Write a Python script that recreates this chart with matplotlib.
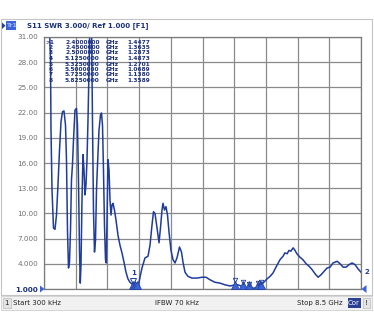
import matplotlib
matplotlib.use("Agg")
import matplotlib.pyplot as plt
from matplotlib.patches import Rectangle, Polygon
import matplotlib.transforms as mtransforms
import numpy as np

W, H = 374, 326

# Sweep: S11 SWR, 300 kHz .. 8.5 GHz
freq_ghz = [
    0.0003, 0.134, 0.174, 0.188, 0.215, 0.255, 0.295, 0.335, 0.375, 0.416,
    0.456, 0.496, 0.536, 0.577, 0.603, 0.630, 0.657, 0.684, 0.711, 0.737,
    0.764, 0.791, 0.831, 0.871, 0.898, 0.925, 0.952, 0.973, 0.992, 1.019,
    1.046, 1.073, 1.099, 1.126, 1.153, 1.180, 1.207, 1.233, 1.274, 1.300,
    1.327, 1.354, 1.381, 1.408, 1.435, 1.475, 1.515, 1.542, 1.569, 1.595,
    1.622, 1.649, 1.671, 1.689, 1.716, 1.743, 1.770, 1.797, 1.823, 1.850,
    1.890, 1.931, 1.984, 2.038, 2.091, 2.145, 2.199, 2.252, 2.306, 2.360,
    2.400, 2.450, 2.500, 2.547, 2.574, 2.628, 2.708, 2.789, 2.842, 2.896,
    2.936, 2.976, 3.030, 3.084, 3.124, 3.164, 3.191, 3.231, 3.271, 3.312,
    3.352, 3.405, 3.459, 3.513, 3.566, 3.633, 3.687, 3.727, 3.781, 3.861,
    3.968, 4.103, 4.237, 4.344, 4.451, 4.585, 4.719, 4.853, 4.987, 5.125,
    5.202, 5.325, 5.400, 5.500, 5.600, 5.725, 5.825, 5.872, 5.979, 6.060,
    6.140, 6.220, 6.330, 6.410, 6.460, 6.520, 6.570, 6.620, 6.680, 6.730,
    6.780, 6.860, 6.940, 7.030, 7.110, 7.190, 7.270, 7.350, 7.430, 7.510,
    7.590, 7.670, 7.750, 7.860, 7.940, 8.020, 8.100, 8.180, 8.260, 8.340,
    8.420, 8.500,
]
swr = [
    34.0, 34.0, 28.3, 20.0, 12.8, 8.26, 8.1, 9.8, 13.4, 17.5,
    20.9, 22.1, 22.2, 20.5, 16.4, 8.0, 3.5, 4.2, 8.0, 14.0,
    15.8, 18.7, 22.3, 22.5, 20.5, 14.0, 5.6, 1.7, 3.9, 11.6,
    17.0, 15.2, 12.2, 13.4, 16.4, 21.1, 27.1, 33.0, 33.0, 21.1,
    10.4, 5.4, 6.8, 12.8, 15.8, 19.9, 21.7, 21.95, 20.5, 15.2,
    8.6, 4.5, 4.1, 9.2, 16.4, 15.2, 11.6, 9.8, 11.0, 11.2,
    10.4, 9.2, 7.4, 6.2, 5.3, 4.2, 3.0, 2.2, 1.8, 1.6,
    1.4477, 1.3635, 1.2873, 1.8, 2.4, 3.5, 4.7, 4.9, 6.2, 8.6,
    10.2, 10.0, 8.3, 6.5, 8.3, 10.4, 11.2, 10.4, 10.8, 9.8,
    7.8, 5.6, 4.5, 4.1, 4.7, 6.0, 5.4, 4.2, 3.0, 2.5,
    2.3, 2.3, 2.4, 2.4, 2.1, 1.8, 1.7, 1.5, 1.36, 1.4873,
    1.5, 1.2701, 1.2, 1.0689, 1.1, 1.1380, 1.3589, 1.7, 2.2, 2.5,
    2.9, 3.6, 4.5, 4.9, 5.3, 5.2, 5.6, 5.5, 5.9, 5.6,
    5.2, 4.8, 4.5, 4.0, 3.7, 3.3, 2.8, 2.4, 2.7, 3.1,
    3.5, 3.6, 4.1, 4.3, 4.0, 3.6, 3.6, 3.9, 4.1, 3.9,
    3.4, 3.0,
]

# Marker table
marker_ids = [1, 2, 3, 4, 5, 6, 7, 8]
marker_freq = [2.4, 2.45, 2.5, 5.125, 5.325, 5.5, 5.725, 5.825]
marker_swr = [1.4477, 1.3635, 1.2873, 1.4873, 1.2701, 1.0689, 1.1380, 1.3589]

y_ticks = [31, 28, 25, 22, 19, 16, 13, 10, 7, 4, 1]
x_start, x_stop = 0.0003, 8.5

TRACE = "#1f3c9c"
NAVY = "#1a2f7a"
GRID = "#8a8a8a"
LABEL = "#707070"

plt.rcParams["font.family"] = ["DejaVu Sans"]

fig = plt.figure(figsize=(W / 100, H / 100), dpi=100)
fig.patch.set_facecolor("white")


def fx(x):
    return x / W


def fy(y):
    return 1 - y / H


# outer panel and header
fig.patches.append(Rectangle((fx(1), fy(295)), fx(371) - fx(0), fy(19) - fy(295),
                             transform=fig.transFigure, fill=False,
                             edgecolor="#c4c4c4", lw=0.8))
fig.patches.append(Polygon([(fx(2), fy(22.5)), (fx(2), fy(29)), (fx(5.5), fy(25.7))],
                           closed=True, transform=fig.transFigure,
                           facecolor=TRACE, edgecolor="none"))
fig.patches.append(Rectangle((fx(6), fy(30)), fx(10), fy(21.5) - fy(30),
                             transform=fig.transFigure, facecolor="#3a64d8",
                             edgecolor="none"))
fig.text(fx(6.5), fy(25.9), "Tr1", fontsize=4.4, color="#9fb6f0",
         va="center", ha="left", fontweight="bold")
fig.text(fx(27), fy(25.9), "S11 SWR 3.000/ Ref 1.000 [F1]", fontsize=5.0,
         color=NAVY, va="center", ha="left", fontweight="bold")

# plot area
ax = fig.add_axes([fx(44), fy(289), fx(361) - fx(44), fy(37) - fy(289)])
ax.set_facecolor("white")
ax.set_xlim(x_start, x_stop)
ax.set_ylim(1, 31)
ax.set_xticks(np.linspace(x_start, x_stop, 11))
ax.set_xticklabels([])
ax.set_yticks(y_ticks)
ax.set_yticklabels([f"{v:.2f}" if v >= 10 else f"{v:.3f}" for v in y_ticks])
ax.tick_params(length=0, pad=4.4, labelsize=5.2, labelcolor=LABEL)
for lbl in ax.get_yticklabels():
    if lbl.get_text() == "1.000":
        lbl.set_color(NAVY)
        lbl.set_fontweight("bold")
ax.grid(True, color=GRID, lw=0.9)
for sp in ax.spines.values():
    sp.set_color("#7a7a7a")
    sp.set_linewidth(0.9)

ax.plot(freq_ghz, swr, color=TRACE, lw=1.1, solid_joinstyle="round")

# stimulus markers on the bottom edge
up = mtransforms.offset_copy(ax.transData, fig=fig, x=0, y=2.6, units="points")
ax.plot(marker_freq, [1] * len(marker_freq), ls="none", marker="^", ms=5.2,
        color="#3a64d8", mec=TRACE, mew=0.5, transform=up, clip_on=False, zorder=5)

# active marker symbol and label
above = mtransforms.offset_copy(ax.transData, fig=fig, x=0, y=3.2, units="points")
ax.plot([marker_freq[0]], [marker_swr[0]], ls="none", marker="v", ms=4.5,
        mfc="none", mec=TRACE, mew=0.7, transform=above, clip_on=False, zorder=6)
ax.annotate(str(marker_ids[0]), (marker_freq[0], marker_swr[0]),
            xytext=(0, 8.5), textcoords="offset points", ha="center", va="center",
            fontsize=5, color=TRACE, fontweight="bold")
for f, v in zip(marker_freq[3:], marker_swr[3:]):
    ax.plot([f], [v], ls="none", marker="v", ms=3.2, mfc="none", mec=TRACE,
            mew=0.6, transform=above, clip_on=False, zorder=6)

# trace end label and reference level arrows
ax.annotate("2", (freq_ghz[-1], swr[-1]), xytext=(2.5, 0), textcoords="offset points",
            ha="left", va="center", fontsize=5, color=TRACE, fontweight="bold",
            annotation_clip=False)
fig.patches.append(Polygon([(fx(40), fy(285.5)), (fx(40), fy(292.5)), (fx(44.5), fy(289))],
                           closed=True, transform=fig.transFigure,
                           facecolor="#3a64d8", edgecolor="none"))
fig.patches.append(Polygon([(fx(366.5), fy(285)), (fx(366.5), fy(293)), (fx(361.5), fy(289))],
                           closed=True, transform=fig.transFigure,
                           facecolor="#3a64d8", edgecolor="none"))

# marker readout table
row_y = [42, 47.5, 53, 58.5, 64, 69.5, 75, 80.5]
for i, (mid, f, v) in enumerate(zip(marker_ids, marker_freq, marker_swr)):
    y = fy(row_y[i])
    tag = f">{mid}" if i == 0 else f"{mid}"
    fig.text(fx(45.5) if i == 0 else fx(48.5), y, tag, fontsize=4.2, color=NAVY,
             va="center", ha="left", fontweight="bold")
    fig.text(fx(65), y, f"{f:.7f}", fontsize=4.2, color=NAVY, va="center",
             ha="left", fontweight="bold")
    fig.text(fx(106), y, "GHz", fontsize=4.2, color=NAVY, va="center",
             ha="left", fontweight="bold")
    fig.text(fx(127), y, f"{v:.4f}", fontsize=4.2, color=NAVY, va="center",
             ha="left", fontweight="bold")

# status bar
fig.patches.append(Rectangle((fx(1), fy(309.5)), fx(371), fy(296) - fy(309.5),
                             transform=fig.transFigure, facecolor="#f1f1f1",
                             edgecolor="#cfcfcf", lw=0.6))
fig.patches.append(Rectangle((fx(2.5), fy(308)), fx(8), fy(297.5) - fy(308),
                             transform=fig.transFigure, facecolor="#e4e4e4",
                             edgecolor="#bdbdbd", lw=0.5))
fig.text(fx(4.5), fy(302.8), "1", fontsize=5, color="#222222", va="center", ha="left")
fig.text(fx(13), fy(302.8), f"Start {x_start * 1e6:.0f} kHz", fontsize=5,
         color="#222222", va="center", ha="left")
fig.text(fx(177), fy(302.8), "IFBW 70 kHz", fontsize=5, color="#222222",
         va="center", ha="center")
fig.text(fx(343), fy(302.8), f"Stop {x_stop:g} GHz", fontsize=5, color="#222222",
         va="center", ha="right")
fig.patches.append(Rectangle((fx(347.5), fy(308)), fx(13), fy(297.5) - fy(308),
                             transform=fig.transFigure, facecolor="#2b3f95",
                             edgecolor="none"))
fig.text(fx(354), fy(302.8), "Cor", fontsize=5, color="white", va="center", ha="center")
fig.patches.append(Rectangle((fx(362.5), fy(308)), fx(7), fy(297.5) - fy(308),
                             transform=fig.transFigure, facecolor="#e4e4e4",
                             edgecolor="#bdbdbd", lw=0.5))
fig.text(fx(366), fy(302.8), "!", fontsize=5, color="#222222", va="center", ha="center")

fig.savefig("out.png", dpi=100)
